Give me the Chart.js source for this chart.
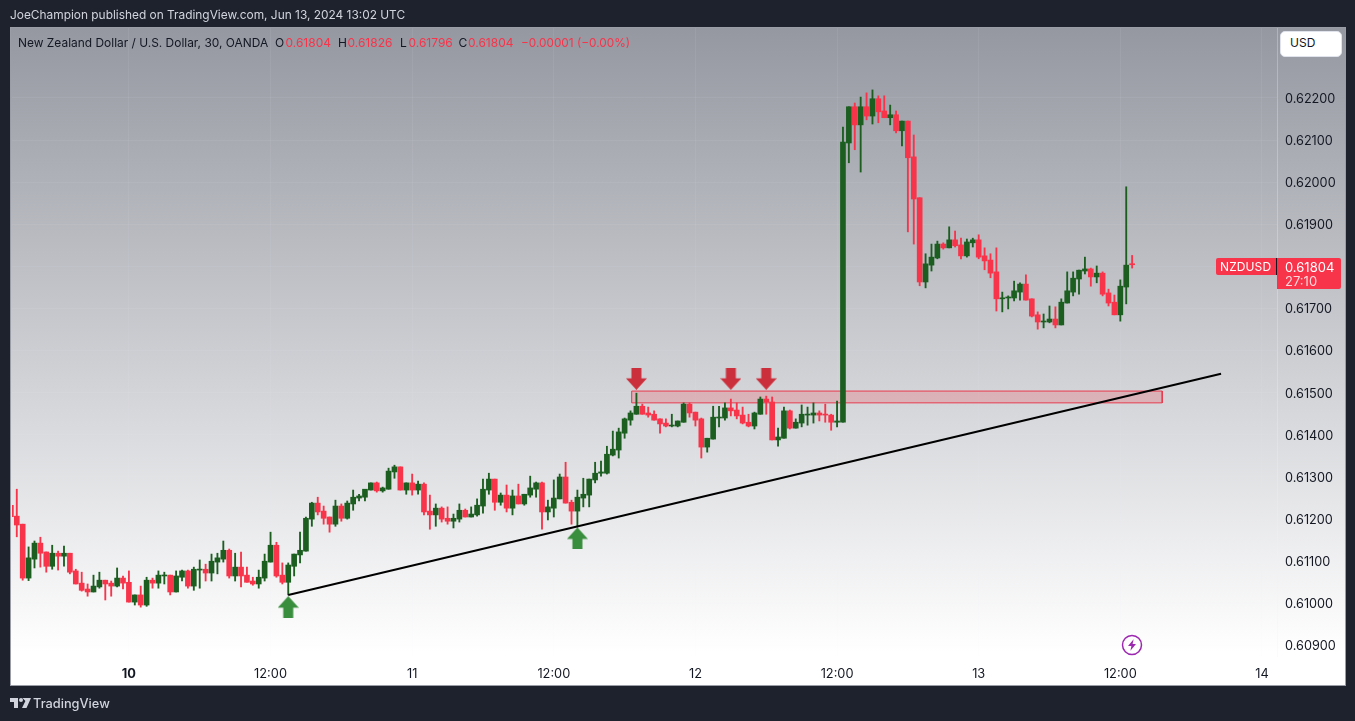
<!DOCTYPE html>
<html>
<head>
<meta charset="utf-8">
<script src="https://cdn.jsdelivr.net/npm/chart.js@4/dist/chart.umd.min.js"></script>
<style>
html,body{margin:0;padding:0;width:1355px;height:721px;overflow:hidden;background:#1e222d;font-family:Inter,"Noto Sans",sans-serif;}
#frame{position:absolute;left:10px;top:27px;width:1334px;height:657px;border:1px solid #9a9da6;background:linear-gradient(#9598a1 0%,#ffffff 95%,#ffffff 100%);}
#c{position:absolute;left:0;top:0;}
.t{position:absolute;white-space:pre;line-height:16px;}
.g{color:#131722}.r{color:#f7344a}
</style>
</head>
<body>
<div id="frame"></div>
<canvas id="c" width="1355" height="721"></canvas>
<div class="t" style="left:10px;top:7px;color:#d1d4dc;font-size:11.9px">JoeChampion published on TradingView.com, Jun 13, 2024 13:02 UTC</div>
<div class="t g" style="left:18px;top:35px;font-size:11.95px">New Zealand Dollar / U.S. Dollar, 30, OANDA</div>
<div class="t g" style="left:275px;top:35px;font-size:12px">O</div><div class="t r" style="left:285.5px;top:35px;font-size:12px">0.61804</div>
<div class="t g" style="left:338px;top:35px;font-size:12px">H</div><div class="t r" style="left:347.5px;top:35px;font-size:12px">0.61826</div>
<div class="t g" style="left:400px;top:35px;font-size:12px">L</div><div class="t r" style="left:408.5px;top:35px;font-size:12px">0.61796</div>
<div class="t g" style="left:458.5px;top:35px;font-size:12px">C</div><div class="t r" style="left:468px;top:35px;font-size:12px">0.61804</div>
<div class="t r" style="left:521px;top:35px;font-size:11.8px">−0.00001 (−0.00%)</div>
<div class="t" style="left:1280px;top:31px;width:60px;height:24px;background:#fff;border:1px solid #e0e3eb;border-radius:5px;"></div>
<div class="t g" style="left:1290px;top:35px;font-size:12px">USD</div>
<div class="t" style="left:1216px;top:258px;width:60px;height:17px;background:#f7344a;border-radius:2px 0 0 2px;"></div>
<div class="t" style="left:1220px;top:259px;color:#fff;font-size:12px;letter-spacing:.1px">NZDUSD</div>
<div class="t" style="left:1276px;top:258px;width:1px;height:17px;background:#131722"></div>
<div class="t" style="left:1277px;top:258px;width:64px;height:31px;background:#f7344a;border-radius:0 2px 2px 0;"></div>
<div class="t" style="left:1285px;top:259px;color:#fff;font-size:13px">0.61804</div>
<div class="t" style="left:1285px;top:273px;color:#fdd7db;font-size:13px">27:10</div>
<svg style="position:absolute;left:1121px;top:634px" width="22" height="22" viewBox="0 0 22 22"><circle cx="11" cy="11" r="9.5" fill="none" stroke="#9c27b0" stroke-width="1.5"/><path d="M12.6 5.2 7 12h3.4l-1 4.8L15 10h-3.4z" fill="#9c27b0"/></svg>
<svg style="position:absolute;left:10px;top:698px" width="21" height="12" viewBox="0 0 21 12"><path d="M0 0h8v10H4V4H0zM12.5 0H21l-4.5 10h-4.5l3.4-7z" fill="#d1d4dc"/><circle cx="11" cy="2" r="2" fill="#d1d4dc"/></svg>
<div class="t" style="left:33px;top:696px;color:#d1d4dc;font-size:12.8px;font-weight:500">TradingView</div>
<script>
const firstBar = -20;
const opens = [
0.61233,0.61207,0.61188,0.61060,0.61105,0.61143,0.61122,0.61088,0.61119,0.61112,
0.61119,0.61077,0.61048,0.61034,0.61027,0.61039,0.61055,0.61048,0.61041,0.61060,
0.61050,0.61003,0.61020,0.60996,0.61055,0.61048,0.61065,0.61067,0.61027,0.61062,
0.61077,0.61041,0.61079,0.61081,0.61072,0.61098,0.61105,0.61126,0.61065,0.61086,
0.61067,0.61053,0.61046,0.61060,0.61098,0.61138,0.61067,0.61050,0.61088,0.61115,
0.61124,0.61200,0.61238,0.61219,0.61205,0.61188,0.61231,0.61202,0.61236,0.61250,
0.61252,0.61269,0.61286,0.61267,0.61271,0.61312,0.61324,0.61269,0.61286,0.61269,
0.61283,0.61219,0.61210,0.61226,0.61202,0.61195,0.61200,0.61221,0.61205,0.61210,
0.61231,0.61269,0.61295,0.61240,0.61257,0.61226,0.61255,0.61236,0.61257,0.61271,
0.61286,0.61217,0.61226,0.61248,0.61300,0.61240,0.61219,0.61250,0.61257,0.61293,
0.61309,0.61309,0.61352,0.61364,0.61404,0.61435,0.61449,0.61468,0.61452,0.61449,
0.61438,0.61428,0.61421,0.61421,0.61430,0.61473,0.61454,0.61438,0.61371,0.61390,
0.61440,0.61440,0.61464,0.61459,0.61447,0.61430,0.61421,0.61449,0.61485,0.61478,
0.61388,0.61392,0.61457,0.61416,0.61428,0.61447,0.61447,0.61452,0.61449,0.61447,
0.61430,0.61430,0.62093,0.62179,0.62136,0.62179,0.62157,0.62198,0.62169,0.62153,
0.62160,0.62122,0.62145,0.62060,0.61963,0.61763,0.61803,0.61820,0.61853,0.61844,
0.61863,0.61851,0.61825,0.61856,0.61863,0.61825,0.61815,0.61787,0.61723,0.61725,
0.61725,0.61739,0.61758,0.61723,0.61685,0.61668,0.61668,0.61675,0.61661,0.61713,
0.61739,0.61770,0.61789,0.61794,0.61775,0.61784,0.61737,0.61715,0.61685,0.61751,0.61805];
const closes = [
0.61206,0.61186,0.61060,0.61108,0.61143,0.61119,0.61088,0.61119,0.61112,0.61119,
0.61074,0.61046,0.61031,0.61027,0.61041,0.61055,0.61046,0.61041,0.61060,0.61048,
0.61003,0.61020,0.60996,0.61055,0.61048,0.61067,0.61067,0.61027,0.61065,0.61077,
0.61041,0.61081,0.61081,0.61072,0.61100,0.61108,0.61126,0.61065,0.61086,0.61065,
0.61050,0.61046,0.61062,0.61100,0.61138,0.61065,0.61050,0.61091,0.61117,0.61126,
0.61202,0.61238,0.61217,0.61202,0.61188,0.61231,0.61202,0.61238,0.61252,0.61255,
0.61271,0.61286,0.61267,0.61274,0.61314,0.61324,0.61269,0.61286,0.61269,0.61283,
0.61217,0.61210,0.61226,0.61200,0.61195,0.61202,0.61221,0.61205,0.61212,0.61233,
0.61271,0.61295,0.61240,0.61257,0.61226,0.61255,0.61236,0.61259,0.61274,0.61286,
0.61217,0.61229,0.61250,0.61300,0.61238,0.61219,0.61252,0.61259,0.61295,0.61309,
0.61312,0.61354,0.61366,0.61407,0.61438,0.61452,0.61468,0.61449,0.61447,0.61435,
0.61426,0.61421,0.61423,0.61433,0.61473,0.61452,0.61435,0.61371,0.61392,0.61442,
0.61442,0.61464,0.61457,0.61445,0.61428,0.61421,0.61452,0.61485,0.61478,0.61388,
0.61395,0.61457,0.61416,0.61430,0.61449,0.61449,0.61452,0.61447,0.61447,0.61430,
0.61433,0.62095,0.62179,0.62136,0.62179,0.62157,0.62198,0.62167,0.62153,0.62160,
0.62122,0.62145,0.62058,0.61960,0.61763,0.61806,0.61822,0.61853,0.61844,0.61863,
0.61849,0.61825,0.61858,0.61863,0.61822,0.61813,0.61784,0.61723,0.61725,0.61727,
0.61742,0.61758,0.61720,0.61682,0.61668,0.61670,0.61675,0.61661,0.61715,0.61742,
0.61772,0.61791,0.61794,0.61775,0.61784,0.61734,0.61713,0.61685,0.61753,0.61803,0.61804];
const highs = [
0.61247,0.61271,0.61188,0.61134,0.61148,0.61157,0.61122,0.61138,0.61124,0.61136,
0.61119,0.61081,0.61074,0.61046,0.61067,0.61074,0.61055,0.61053,0.61084,0.61065,
0.61077,0.61020,0.61041,0.61062,0.61060,0.61077,0.61074,0.61067,0.61077,0.61079,
0.61079,0.61086,0.61103,0.61093,0.61117,0.61119,0.61148,0.61129,0.61119,0.61122,
0.61086,0.61062,0.61079,0.61117,0.61169,0.61145,0.61096,0.61096,0.61117,0.61169,
0.61205,0.61240,0.61252,0.61231,0.61205,0.61245,0.61236,0.61243,0.61269,0.61259,
0.61271,0.61286,0.61288,0.61276,0.61321,0.61328,0.61324,0.61286,0.61307,0.61290,
0.61286,0.61257,0.61236,0.61229,0.61229,0.61212,0.61236,0.61224,0.61229,0.61248,
0.61295,0.61309,0.61295,0.61262,0.61281,0.61269,0.61283,0.61259,0.61302,0.61288,
0.61288,0.61245,0.61293,0.61307,0.61335,0.61245,0.61269,0.61297,0.61295,0.61335,
0.61338,0.61373,0.61409,0.61416,0.61440,0.61457,0.61499,0.61473,0.61466,0.61457,
0.61438,0.61438,0.61449,0.61433,0.61476,0.61476,0.61454,0.61440,0.61392,0.61468,
0.61468,0.61476,0.61485,0.61476,0.61466,0.61449,0.61454,0.61490,0.61492,0.61490,
0.61416,0.61466,0.61459,0.61438,0.61471,0.61466,0.61476,0.61457,0.61473,0.61449,
0.61480,0.62131,0.62179,0.62188,0.62202,0.62212,0.62219,0.62205,0.62205,0.62183,
0.62169,0.62145,0.62145,0.62112,0.61963,0.61830,0.61853,0.61860,0.61856,0.61894,
0.61884,0.61867,0.61865,0.61867,0.61875,0.61844,0.61830,0.61844,0.61739,0.61730,
0.61765,0.61761,0.61780,0.61723,0.61692,0.61687,0.61706,0.61704,0.61723,0.61787,
0.61787,0.61791,0.61822,0.61796,0.61801,0.61787,0.61746,0.61732,0.61768,0.61989,0.61826];
const lows = [
0.61146,0.61158,0.61055,0.61054,0.61084,0.61086,0.61074,0.61081,0.61079,0.61088,
0.61070,0.61046,0.61029,0.61017,0.61027,0.61036,0.61008,0.61017,0.61039,0.61034,
0.61003,0.60996,0.60991,0.60993,0.61036,0.61036,0.61046,0.61020,0.61027,0.61053,
0.61036,0.61031,0.61036,0.61053,0.61053,0.61070,0.61098,0.61060,0.61053,0.61039,
0.61050,0.61043,0.61036,0.61053,0.61098,0.61062,0.61046,0.61020,0.61065,0.61096,
0.61124,0.61183,0.61210,0.61188,0.61169,0.61183,0.61195,0.61200,0.61221,0.61243,
0.61243,0.61269,0.61264,0.61264,0.61271,0.61297,0.61269,0.61259,0.61257,0.61259,
0.61210,0.61176,0.61183,0.61193,0.61188,0.61179,0.61193,0.61205,0.61205,0.61207,
0.61214,0.61259,0.61221,0.61233,0.61217,0.61210,0.61236,0.61233,0.61252,0.61252,
0.61176,0.61198,0.61205,0.61248,0.61238,0.61188,0.61183,0.61229,0.61229,0.61286,
0.61302,0.61307,0.61350,0.61345,0.61392,0.61423,0.61449,0.61449,0.61442,0.61435,
0.61404,0.61419,0.61419,0.61419,0.61430,0.61442,0.61421,0.61345,0.61359,0.61390,
0.61419,0.61435,0.61445,0.61438,0.61426,0.61419,0.61414,0.61449,0.61449,0.61388,
0.61373,0.61392,0.61414,0.61416,0.61419,0.61423,0.61428,0.61433,0.61430,0.61411,
0.61419,0.61430,0.62046,0.62077,0.62024,0.62148,0.62138,0.62141,0.62153,0.62136,
0.62117,0.62086,0.61882,0.61853,0.61754,0.61749,0.61789,0.61818,0.61841,0.61844,
0.61846,0.61818,0.61822,0.61846,0.61818,0.61792,0.61773,0.61694,0.61692,0.61699,
0.61718,0.61720,0.61720,0.61680,0.61651,0.61654,0.61666,0.61654,0.61661,0.61713,
0.61730,0.61734,0.61782,0.61753,0.61761,0.61730,0.61706,0.61685,0.61670,0.61711,0.61796];
const priceTicks = [0.622,0.621,0.620,0.619,0.618,0.617,0.616,0.615,0.614,0.613,0.612,0.611,0.610,0.609];
const shownPriceTicks = [0.622,0.621,0.620,0.619,0.617,0.616,0.615,0.614,0.613,0.612,0.611,0.610,0.609];
const timeTickBars = [0,24,48,72,96,120,144,168,192];
const timeTickLabels = ["10","12:00","11","12:00","12","12:00","13","12:00","14"];
const trendBars = [27,185.07];
const trendPrices = [0.61020,0.61545];
const zoneBars = [85.2,175.1];
const zonePrices = [0.61476,0.61504];
const upArrowBars = [27,76];
const upArrowPrices = [0.60991,0.61154];
const downArrowBars = [86,102,108];
const downArrowPrices = [0.61533,0.61533,0.61533];

const GREEN = "#1b5e20", RED = "#f7344a";
const isUp = i => closes[i] >= opens[i];
const colorOf = ctx => isUp(ctx.dataIndex) ? GREEN : RED;
const barX = i => firstBar + i;

function arrowImage(color, up){
  const c = document.createElement("canvas"); c.width = 21; c.height = 22;
  const g = c.getContext("2d"); g.fillStyle = color;
  if(!up){ g.translate(0,22); g.scale(1,-1); }
  g.beginPath(); g.moveTo(10.5,0); g.lineTo(21,11.5); g.lineTo(15.5,11.5); g.lineTo(15.5,22);
  g.lineTo(5.5,22); g.lineTo(5.5,11.5); g.lineTo(0,11.5); g.closePath(); g.fill();
  return c;
}

new Chart(document.getElementById("c"), {
  type: "bar",
  data: { datasets: [
    { type:"scatter", order:1, data: trendBars.map((x,i)=>({x, y:trendPrices[i]})), showLine:true, borderColor:"#000", borderWidth:2, pointRadius:0, fill:false },
    { type:"scatter", order:2, clip:false, data: upArrowBars.map((x,i)=>({x, y:upArrowPrices[i]})), pointStyle: arrowImage("#388e3c",true), pointRadius:11, showLine:false },
    { type:"scatter", order:2, clip:false, data: downArrowBars.map((x,i)=>({x, y:downArrowPrices[i]})), pointStyle: arrowImage("#cc2f3c",false), pointRadius:11, showLine:false },
    { order:3, data: opens.map((o,i)=>({x:barX(i), y:[o,closes[i]]})), backgroundColor:colorOf, barThickness:5, minBarLength:1, grouped:false },
    { order:4, data: highs.map((h,i)=>({x:barX(i), y:[lows[i],h]})), backgroundColor:colorOf, barThickness:1.2, minBarLength:1, grouped:false },
    { type:"scatter", order:5, showLine:true, tension:0, pointRadius:0,
      data:[{x:zoneBars[0],y:zonePrices[0]},{x:zoneBars[0],y:zonePrices[1]},{x:zoneBars[1],y:zonePrices[1]},{x:zoneBars[1],y:zonePrices[0]},{x:zoneBars[0],y:zonePrices[0]}],
      borderColor:"#e8394d", borderWidth:1, fill:"shape", backgroundColor:"rgba(242,54,69,0.22)" }
  ]},
  options: {
    responsive:false, animation:false, events:[],
    layout:{ padding:{ left:11, top:28, right:10, bottom:36 } },
    plugins:{ legend:{display:false}, tooltip:{enabled:false}, title:{display:false} },
    scales:{
      x:{ type:"linear", min:-19.81, max:194.55, offset:false,
        afterBuildTicks:s=>{ s.ticks = timeTickBars.map(v=>({value:v})); },
        afterFit:s=>{ s.height = 29; },
        grid:{ color:"rgba(240,243,250,0.07)", drawTicks:false, offset:false },
        border:{ color:"rgba(240,243,250,0.0)" },
        ticks:{ autoSkip:false, maxRotation:0, padding:10, color:"#131722",
          font:ctx=>({ family:"Inter", size:12.8, weight: ctx.tick && ctx.tick.value===0 ? "700":"400" }),
          callback:v=>timeTickLabels[timeTickBars.indexOf(v)] } },
      y:{ type:"linear", position:"right", min:0.60875, max:0.62366,
        afterBuildTicks:s=>{ s.ticks = priceTicks.map(v=>({value:v})); },
        afterFit:s=>{ s.width = 68; },
        grid:{ color:"rgba(240,243,250,0.07)", drawTicks:false },
        border:{ color:"rgba(240,243,250,0.3)" },
        ticks:{ autoSkip:false, padding:8, labelOffset:1, color:"#131722", font:{family:"Inter",size:12.7},
          callback:v=>shownPriceTicks.includes(v) ? v.toFixed(5) : "" } }
    }
  }
});
</script>
</body>
</html>
